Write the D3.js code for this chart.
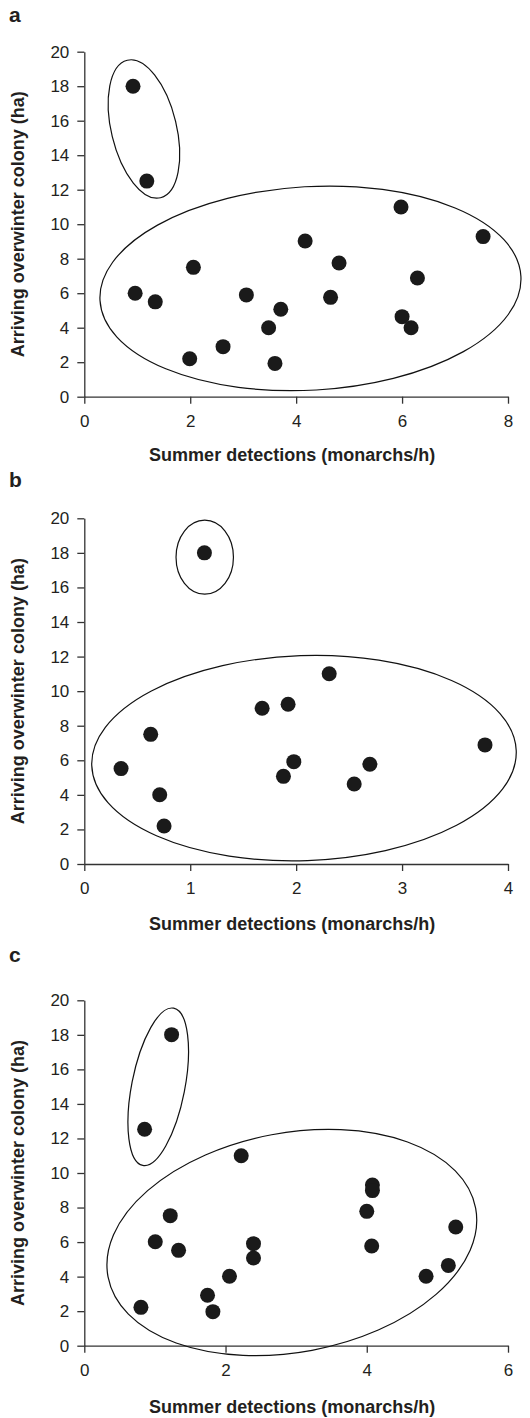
<!DOCTYPE html>
<html>
<head>
<meta charset="utf-8">
<script src="https://cdn.jsdelivr.net/npm/d3@7"></script>
<style>
  body { margin: 0; background: #fff; }
  text { font-family: "Liberation Sans", Arial, sans-serif; fill: #231f20; }
</style>
</head>
<body>
<div id="vis"></div>
<script>
// ------------------------
// Data
// ------------------------
const yTicks = [0, 2, 4, 6, 8, 10, 12, 14, 16, 18, 20];

// panel a
const aTicks = [0, 2, 4, 6, 8];
const aX = [0.92, 1.18, 0.96, 1.34, 2.06, 1.99, 2.62, 3.06, 3.48, 3.71, 3.60, 4.17, 4.81, 4.65, 5.98, 6.00, 6.17, 6.29, 7.53];
const aY = [18.0, 12.5, 6.0, 5.5, 7.5, 2.2, 2.9, 5.9, 4.0, 5.07, 1.93, 9.03, 7.75, 5.76, 11.0, 4.64, 4.0, 6.88, 9.28];
// groups: cx, cy, rx, ry (data units), rotation (deg)
const aGroups = [[1.126, 15.52, 0.615, 4.10, -13.6], [4.27, 6.28, 3.98, 5.9, -3.3]];

// panel b
const bTicks = [0, 1, 2, 3, 4];
const bX = [1.134, 0.347, 0.627, 0.712, 0.753, 1.679, 1.924, 2.312, 1.978, 1.88, 2.548, 2.696, 3.783];
const bY = [18.0, 5.52, 7.5, 4.01, 2.2, 9.01, 9.24, 11.01, 5.92, 5.07, 4.63, 5.77, 6.89];
const bGroups = [[1.137, 17.75, 0.271, 2.14, 0], [2.074, 6.125, 2.005, 5.93, -2]];

// panel c
const cTicks = [0, 2, 4, 6];
const cX = [1.236, 0.854, 2.222, 4.08, 4.08, 4.0, 1.217, 5.26, 1.005, 2.396, 1.335, 4.07, 2.396, 5.155, 4.84, 2.056, 1.745, 1.821, 0.802];
const cY = [18.01, 12.53, 11.0, 9.3, 8.98, 7.78, 7.53, 6.87, 6.02, 5.91, 5.52, 5.77, 5.08, 4.65, 4.02, 4.02, 2.92, 1.97, 2.22];
const cGroups = [[1.047, 14.99, 0.376, 4.64, 11.1], [2.939, 5.975, 2.648, 6.35, -10.6]];

const xTitle = "Summer detections (monarchs/h)";
const yTitle = "Arriving overwinter colony (ha)";

const panels = [
  { label: "a", ticks: aTicks, xs: aX, ys: aY, groups: aGroups, top: 51.7, bottom: 396.7, labelY: 21.7, titleY: 461 },
  { label: "b", ticks: bTicks, xs: bX, ys: bY, groups: bGroups, top: 518.3, bottom: 864, labelY: 487, titleY: 930 },
  { label: "c", ticks: cTicks, xs: cX, ys: cY, groups: cGroups, top: 1000.3, bottom: 1345.7, labelY: 962, titleY: 1413 }
];

const svg = d3.select("#vis")
  .append("svg")
  .attr("width", 530)
  .attr("height", 1418);

const left = 84.3, right = 508;

panels.forEach(p => drawPanel(p));

// ------------------------
// One scatter panel
// ------------------------
function drawPanel(p) {
  const x = d3.scaleLinear()
    .domain([0, d3.max(p.ticks)])
    .range([left, right]);

  const y = d3.scaleLinear()
    .domain([0, 20])
    .range([p.bottom, p.top]);

  // panel letter
  svg.append("text")
    .attr("x", 9)
    .attr("y", p.labelY)
    .style("font-size", "21px")
    .style("font-weight", "bold")
    .text(p.label);

  // axes
  const xAxis = svg.append("g")
    .attr("transform", `translate(0,${p.bottom})`)
    .call(d3.axisBottom(x).tickValues(p.ticks).tickFormat(d3.format("d"))
      .tickSize(7).tickSizeOuter(0).tickPadding(11));

  const yAxis = svg.append("g")
    .attr("transform", `translate(${left},0)`)
    .call(d3.axisLeft(y).tickValues(yTicks).tickFormat(d3.format("d"))
      .tickSize(7).tickSizeOuter(0).tickPadding(8));

  [xAxis, yAxis].forEach(ax => {
    ax.selectAll("path, line").attr("stroke", "#333").attr("stroke-width", 1.3);
    ax.selectAll("text")
      .style("font-size", "17px")
      .style("font-family", "'Liberation Sans', Arial, sans-serif")
      .attr("fill", "#231f20");
  });

  // group outlines
  svg.append("g")
    .selectAll("ellipse")
    .data(p.groups)
    .enter()
    .append("ellipse")
    .attr("transform", d => `translate(${x(d[0])},${y(d[1])}) rotate(${d[4]})`)
    .attr("rx", d => x(d[0] + d[2]) - x(d[0]))
    .attr("ry", d => y(d[1] - d[3]) - y(d[1]))
    .attr("fill", "none")
    .attr("stroke", "#111")
    .attr("stroke-width", 1.2);

  // points
  svg.append("g")
    .selectAll("circle")
    .data(p.xs.map((v, i) => [v, p.ys[i]]))
    .enter()
    .append("circle")
    .attr("cx", d => x(d[0]))
    .attr("cy", d => y(d[1]))
    .attr("r", 7.5)
    .attr("fill", "#1a1a1a");

  // axis titles
  svg.append("text")
    .attr("x", (left + right) / 2 - 4)
    .attr("y", p.titleY)
    .attr("text-anchor", "middle")
    .style("font-size", "18px")
    .style("font-weight", "bold")
    .text(xTitle);

  svg.append("text")
    .attr("transform", `translate(24,${(p.top + p.bottom) / 2}) rotate(-90)`)
    .attr("text-anchor", "middle")
    .style("font-size", "18px")
    .style("font-weight", "bold")
    .text(yTitle);
}
</script>
</body>
</html>
